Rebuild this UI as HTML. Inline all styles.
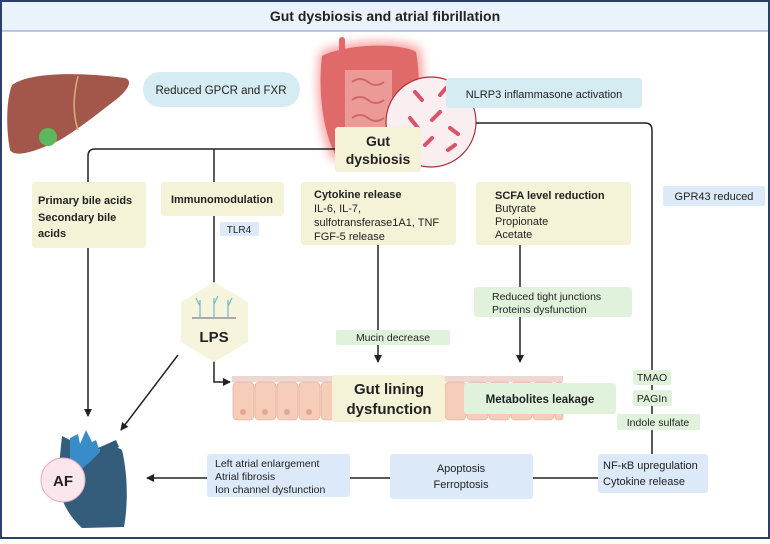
<!DOCTYPE html>
<html><head><meta charset="utf-8"><style>
body{margin:0;width:770px;height:539px;overflow:hidden;background:#fff;font-family:"Liberation Sans","DejaVu Sans",sans-serif}
svg text{font-family:"Liberation Sans","DejaVu Sans",sans-serif;fill:#222}
</style></head><body>
<svg width="770" height="539" viewBox="0 0 770 539" xmlns="http://www.w3.org/2000/svg">
<defs>
<marker id="a" markerWidth="8" markerHeight="8" refX="7" refY="4" orient="auto" markerUnits="userSpaceOnUse"><path d="M0,0 L8,4 L0,8 Z" fill="#222"/></marker>
<filter id="g" x="-30%" y="-30%" width="160%" height="160%"><feGaussianBlur stdDeviation="5"/></filter>
</defs>
<rect x="1" y="1" width="768" height="537" fill="#fff" stroke="#2c3e6b" stroke-width="2"/>
<rect x="2" y="2" width="766" height="29" fill="#eaf2fb"/>
<line x1="2" y1="31" x2="768" y2="31" stroke="#7f97c4" stroke-width="1"/>
<text x="385" y="21" text-anchor="middle" font-size="14" font-weight="bold">Gut dysbiosis and atrial fibrillation</text>

<!-- liver -->
<path d="M12,85 C30,72 80,72 125,78 C132,80 130,88 118,98 C100,112 80,128 60,140 C35,152 15,158 10,150 C6,130 6,100 12,85Z" fill="#a3574a"/>
<circle cx="48" cy="137" r="9" fill="#5cb85c"/>
<path d="M78,76 C72,100 74,118 78,130" stroke="#d8b080" stroke-width="1.5" fill="none"/>

<rect x="143" y="72" width="157" height="35" rx="17" fill="#d6ecf3"/>
<text x="221" y="94" text-anchor="middle" font-size="11.5">Reduced GPCR and FXR</text>

<!-- intestine -->
<path d="M320,52 C345,40 400,38 420,48 C426,80 424,130 414,158 L332,160 C318,130 315,85 320,52Z" fill="#f04848" filter="url(#g)" opacity="0.5"/>
<path d="M322,56 C345,44 400,42 416,52 C421,80 420,125 410,154 L392,154 L392,70 L345,70 L345,150 L336,156 C322,130 318,88 322,56Z" fill="#e06a6a"/>
<path d="M345,70 L392,70 L392,154 L345,150Z" fill="#ec9a96"/>
<g stroke="#d06868" stroke-width="2" fill="none">
<path d="M352,82 q8,-6 16,0 q8,6 16,0 M352,100 q8,-6 16,0 q8,6 16,0 M352,118 q8,-6 16,0 q8,6 16,0 M352,136 q8,-6 16,0"/>
</g>
<line x1="342" y1="40" x2="342" y2="52" stroke="#e06a6a" stroke-width="6" stroke-linecap="round"/>

<circle cx="431" cy="122" r="45" fill="#fbeef0" stroke="#a8323c" stroke-width="1.2"/>
<g stroke="#d9536a" stroke-width="4" stroke-linecap="round">
<line x1="415" y1="92" x2="422" y2="100"/><line x1="440" y1="95" x2="446" y2="88"/><line x1="410" y1="118" x2="418" y2="128"/>
<line x1="432" y1="120" x2="440" y2="112"/><line x1="450" y1="128" x2="458" y2="134"/><line x1="425" y1="145" x2="432" y2="138"/><line x1="448" y1="150" x2="455" y2="145"/>
</g>
<rect x="446" y="78" width="196" height="30" rx="3" fill="#d6ecf3"/>
<text x="544" y="98" text-anchor="middle" font-size="11">NLRP3 inflammasone activation</text>

<rect x="335" y="127" width="86" height="45" rx="3" fill="#f5f3d7"/>
<text x="378" y="146" text-anchor="middle" font-size="14" font-weight="bold">Gut</text>
<text x="378" y="164" text-anchor="middle" font-size="14" font-weight="bold">dysbiosis</text>

<g stroke="#222" stroke-width="1.5" fill="none">
<path d="M335,149 H95 Q88,149 88,156 V416" marker-end="url(#a)"/>
<line x1="214" y1="149" x2="214" y2="182"/>
<line x1="214" y1="216" x2="214" y2="287"/>
<path d="M214,360 V382 H230" marker-end="url(#a)"/>
<line x1="178" y1="355" x2="121" y2="430" marker-end="url(#a)"/>
<path d="M476,123 H645 Q652,123 652,130 V454"/>
<line x1="378" y1="245" x2="378" y2="362" marker-end="url(#a)"/>
<line x1="520" y1="245" x2="520" y2="287"/>
<line x1="520" y1="317" x2="520" y2="362" marker-end="url(#a)"/>
<line x1="598" y1="478" x2="533" y2="478"/>
<line x1="390" y1="478" x2="350" y2="478"/>
<line x1="207" y1="478" x2="147" y2="478" marker-end="url(#a)"/>
</g>

<rect x="32" y="182" width="114" height="66" rx="3" fill="#f5f3d7"/>
<text x="38" y="204" font-size="11" font-weight="bold">Primary bile acids</text>
<text x="38" y="221" font-size="11" font-weight="bold">Secondary bile</text>
<text x="38" y="237" font-size="11" font-weight="bold">acids</text>

<rect x="161" y="182" width="123" height="34" rx="3" fill="#f5f3d7"/>
<text x="222" y="203" text-anchor="middle" font-size="11" font-weight="bold">Immunomodulation</text>
<rect x="220" y="222" width="39" height="14" rx="2" fill="#dce9f8"/>
<text x="239" y="233" text-anchor="middle" font-size="10">TLR4</text>

<rect x="301" y="182" width="155" height="63" rx="3" fill="#f5f3d7"/>
<text x="314" y="198" font-size="11" font-weight="bold">Cytokine release</text>
<text x="314" y="212" font-size="11">IL-6, IL-7,</text>
<text x="314" y="226" font-size="11">sulfotransferase1A1, TNF</text>
<text x="314" y="240" font-size="11">FGF-5 release</text>

<rect x="476" y="182" width="155" height="63" rx="3" fill="#f5f3d7"/>
<text x="495" y="199" font-size="11" font-weight="bold">SCFA level reduction</text>
<text x="495" y="212" font-size="11">Butyrate</text>
<text x="495" y="225" font-size="11">Propionate</text>
<text x="495" y="238" font-size="11">Acetate</text>

<rect x="663" y="186" width="102" height="20" rx="2" fill="#dce9f8"/>
<text x="714" y="200" text-anchor="middle" font-size="11">GPR43 reduced</text>

<rect x="474" y="287" width="158" height="30" rx="3" fill="#e0f2dc"/>
<text x="492" y="300" font-size="10.5">Reduced tight junctions</text>
<text x="492" y="313" font-size="10.5">Proteins dysfunction</text>

<rect x="336" y="330" width="114" height="15" rx="2" fill="#e0f2dc"/>
<text x="393" y="341" text-anchor="middle" font-size="10.5">Mucin decrease</text>

<polygon points="214,282 248,302 248,342 214,362 181,342 181,302" fill="#f6f4dc"/>
<g stroke="#6cb8c8" stroke-width="1.2" fill="none">
<path d="M200,318 V300 M200,306 L196,298 M214,318 V298 M214,304 L218,296 M228,318 V300 M228,306 L232,298"/>
</g>
<line x1="192" y1="318" x2="236" y2="318" stroke="#aaa" stroke-width="2"/>
<text x="214" y="342" text-anchor="middle" font-size="15" font-weight="bold">LPS</text>

<!-- gut lining cells -->
<rect x="232" y="376" width="331" height="6" fill="#ecd8d0"/>
<g fill="#f6cdb8" stroke="#e3a890" stroke-width="0.6">
<rect x="233" y="382" width="21" height="38" rx="4"/><rect x="255" y="382" width="21" height="38" rx="4"/><rect x="277" y="382" width="21" height="38" rx="4"/><rect x="299" y="382" width="21" height="38" rx="4"/><rect x="321" y="382" width="21" height="38" rx="4"/>
<rect x="445" y="382" width="21" height="38" rx="4"/><rect x="467" y="382" width="21" height="38" rx="4"/><rect x="489" y="382" width="21" height="38" rx="4"/><rect x="511" y="382" width="21" height="38" rx="4"/><rect x="533" y="382" width="21" height="38" rx="4"/><rect x="555" y="382" width="8" height="38" rx="3"/>
</g>
<g fill="#e3a890"><circle cx="243" cy="412" r="3"/><circle cx="265" cy="412" r="3"/><circle cx="287" cy="412" r="3"/><circle cx="309" cy="412" r="3"/></g>

<rect x="332" y="375" width="113" height="47" rx="3" fill="#f5f3d7"/>
<text x="389" y="394" text-anchor="middle" font-size="15" font-weight="bold">Gut lining</text>
<text x="389" y="414" text-anchor="middle" font-size="15" font-weight="bold">dysfunction</text>

<rect x="464" y="383" width="152" height="31" rx="3" fill="#e0f2dc"/>
<text x="540" y="403" text-anchor="middle" font-size="11.5" font-weight="bold">Metabolites leakage</text>

<rect x="633" y="370" width="38" height="15" rx="2" fill="#e0f2dc"/>
<text x="652" y="381" text-anchor="middle" font-size="10.5">TMAO</text>
<rect x="633" y="390" width="39" height="16" rx="2" fill="#e0f2dc"/>
<text x="652" y="402" text-anchor="middle" font-size="10.5">PAGIn</text>
<rect x="617" y="414" width="83" height="16" rx="2" fill="#e0f2dc"/>
<text x="658" y="426" text-anchor="middle" font-size="10.5">Indole sulfate</text>

<rect x="598" y="454" width="110" height="39" rx="3" fill="#dce9f8"/>
<text x="603" y="469" font-size="11">NF-κB upregulation</text>
<text x="603" y="485" font-size="11">Cytokine release</text>

<rect x="390" y="454" width="143" height="45" rx="3" fill="#dce9f8"/>
<text x="461" y="472" text-anchor="middle" font-size="11">Apoptosis</text>
<text x="461" y="488" text-anchor="middle" font-size="11">Ferroptosis</text>

<rect x="207" y="454" width="143" height="43" rx="3" fill="#dce9f8"/>
<text x="215" y="467" font-size="10.5">Left atrial enlargement</text>
<text x="215" y="480" font-size="10.5">Atrial fibrosis</text>
<text x="215" y="493" font-size="10.5">Ion channel dysfunction</text>

<!-- heart -->
<path d="M62,436 L70,440 L70,465 L88,455 L100,450 C108,448 118,446 122,450 C128,475 128,505 124,527 L82,528 C68,515 58,498 58,475 Z" fill="#335d7a"/>
<path d="M70,438 L78,434 L80,444 L86,430 L92,442 L96,440 L100,452 L90,462 L78,472 L70,466 Z" fill="#3a8cc8"/>
<path d="M98,448 L116,440 L119,447 L105,455Z" fill="#335d7a"/>
<path d="M100,458 L118,454 L118,462 L104,466Z" fill="#335d7a"/>
<circle cx="63" cy="480" r="22" fill="#fbe6ee" stroke="#e6a8c0" stroke-width="1"/>
<text x="63" y="486" text-anchor="middle" font-size="15" font-weight="bold">AF</text>
</svg>
</body></html>
